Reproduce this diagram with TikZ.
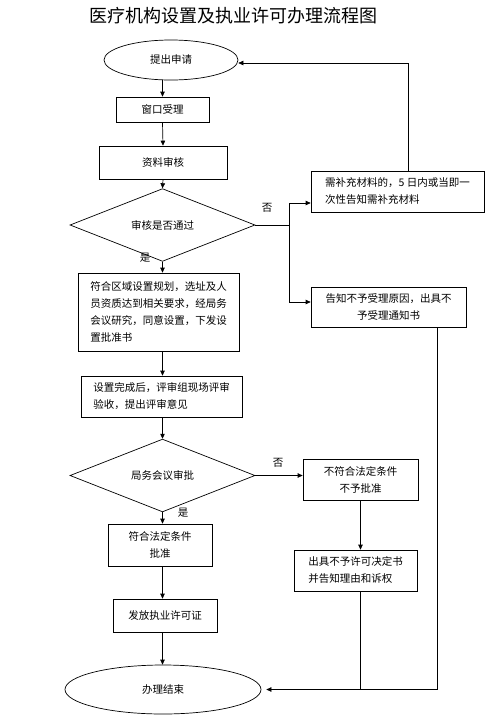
\documentclass[tikz,border=0pt]{standalone}
\usepackage{fontspec}
\setmainfont{Noto Sans CJK SC}
\usetikzlibrary{shapes.geometric,arrows.meta}

\tikzset{
  box/.style={draw, line width=0.7pt, inner sep=0pt, align=center, font=\fontsize{10.5}{17}\selectfont},
  oval/.style={draw, ellipse, line width=0.7pt, inner sep=0pt, font=\fontsize{10.5}{17}\selectfont},
  decide/.style={draw, diamond, line width=0.7pt, inner sep=0pt, font=\fontsize{10.5}{17}\selectfont},
  flow/.style={line width=0.7pt, -{Triangle[length=5pt,width=4.5pt]}},
  link/.style={line width=0.7pt},
  tag/.style={inner sep=0pt, font=\fontsize{10.5}{12}\selectfont}
}

\begin{document}
\begin{tikzpicture}[x=1pt,y=-1pt]
\useasboundingbox (0,0) rectangle (499,721);

\node[inner sep=0pt, font=\fontsize{18}{20}\selectfont] (title) at (233,16) {医疗机构设置及执业许可办理流程图};

\node[oval, minimum width=134pt, minimum height=40pt] (start) at (171,60) {提出申请}; % start
\node[box, minimum width=93pt, minimum height=25pt] (accept) at (162.5,109.5) {窗口受理}; % accept
\node[box, minimum width=128pt, minimum height=33pt] (review) at (163,162.5) {资料审核}; % review
\node[decide, minimum width=185pt, minimum height=41pt] (check) at (162.5,225) {审核是否通过}; % check
\node[box, minimum width=161pt, minimum height=78pt, align=left] (plan) at (158.5,312)
  {符合区域设置规划，选址及人\\员资质达到相关要求，经局务\\会议研究，同意设置，下发设\\置批准书}; % plan
\node[box, minimum width=161pt, minimum height=41pt, align=left] (inspect) at (161.5,396.5)
  {设置完成后，评审组现场评审\\验收，提出评审意见}; % inspect
\node[decide, minimum width=185pt, minimum height=49pt] (meet) at (162.5,475.5) {局务会议审批}; % meet
\node[box, minimum width=104pt, minimum height=42pt] (grant) at (160,545) {符合法定条件\\批准}; % grant
\node[box, minimum width=104pt, minimum height=33pt] (license) at (165,615.5) {发放执业许可证}; % license
\node[oval, minimum width=196pt, minimum height=49pt] (finish) at (163,689.5) {办理结束}; % finish

\node[box, minimum width=173pt, minimum height=41pt, align=left] (supp) at (397.5,191.5)
  {需补充材料的，5 日内或当即一\\次性告知需补充材料}; % supp
\node[box, minimum width=155pt, minimum height=40pt] (refuse) at (388.5,307)
  {告知不予受理原因，出具不\\予受理通知书}; % refuse
\node[box, minimum width=115pt, minimum height=41pt] (deny) at (360.5,479.5) {不符合法定条件\\不予批准}; % deny
\node[box, minimum width=123pt, minimum height=41pt, align=left] (denydoc) at (355.5,570.5)
  {出具不予许可决定书\\并告知理由和诉权}; % denydoc

\node[tag] (no1) at (267,208) {否};
\node[tag] (yes1) at (145,258) {是};
\node[tag] (no2) at (278,463) {否};
\node[tag] (yes2) at (183,513) {是};

\coordinate (split) at (289,225);

\draw[flow] (accept.north |- start.south) -- (accept.north); % start-accept
\draw[flow] (accept.south) -- (review.north); % accept-review
\draw[flow] (review.south) -- (check.north); % review-check
\draw[flow] (check.south) -- (check.south |- plan.north); % check-plan
\draw[flow] (check.south |- plan.south) -- (check.south |- inspect.north); % plan-inspect
\draw[flow] (check.south |- inspect.south) -- (meet.north); % inspect-meet
\draw[flow] (meet.south) -- (meet.south |- grant.north); % meet-grant
\draw[flow] (meet.south |- grant.south) -- (meet.south |- license.north); % grant-license
\draw[flow] (meet.south |- license.south) -- (meet.south |- finish.north); % license-finish

\draw[link] (check.east) -- (split); % check-split
\draw[flow] (split) |- ([yshift=-11.5pt]supp.west); % split-supp
\draw[flow] (split) |- ([yshift=5pt]refuse.west); % split-refuse
\draw[flow] ([xshift=10.5pt]supp.north) |- ([yshift=-3pt]start.east); % supp-start
\draw[flow] ([xshift=48.5pt]refuse.south) |- ([xshift=5pt]finish.east); % refuse-finish

\draw[flow] (meet.east) -- (meet.east -| deny.west); % meet-deny
\draw[flow] (deny.south) -- (deny.south |- denydoc.north); % deny-denydoc
\draw[link] (deny.south |- denydoc.south) -- (deny.south |- finish.east); % denydoc-finish
\end{tikzpicture}
\end{document}
